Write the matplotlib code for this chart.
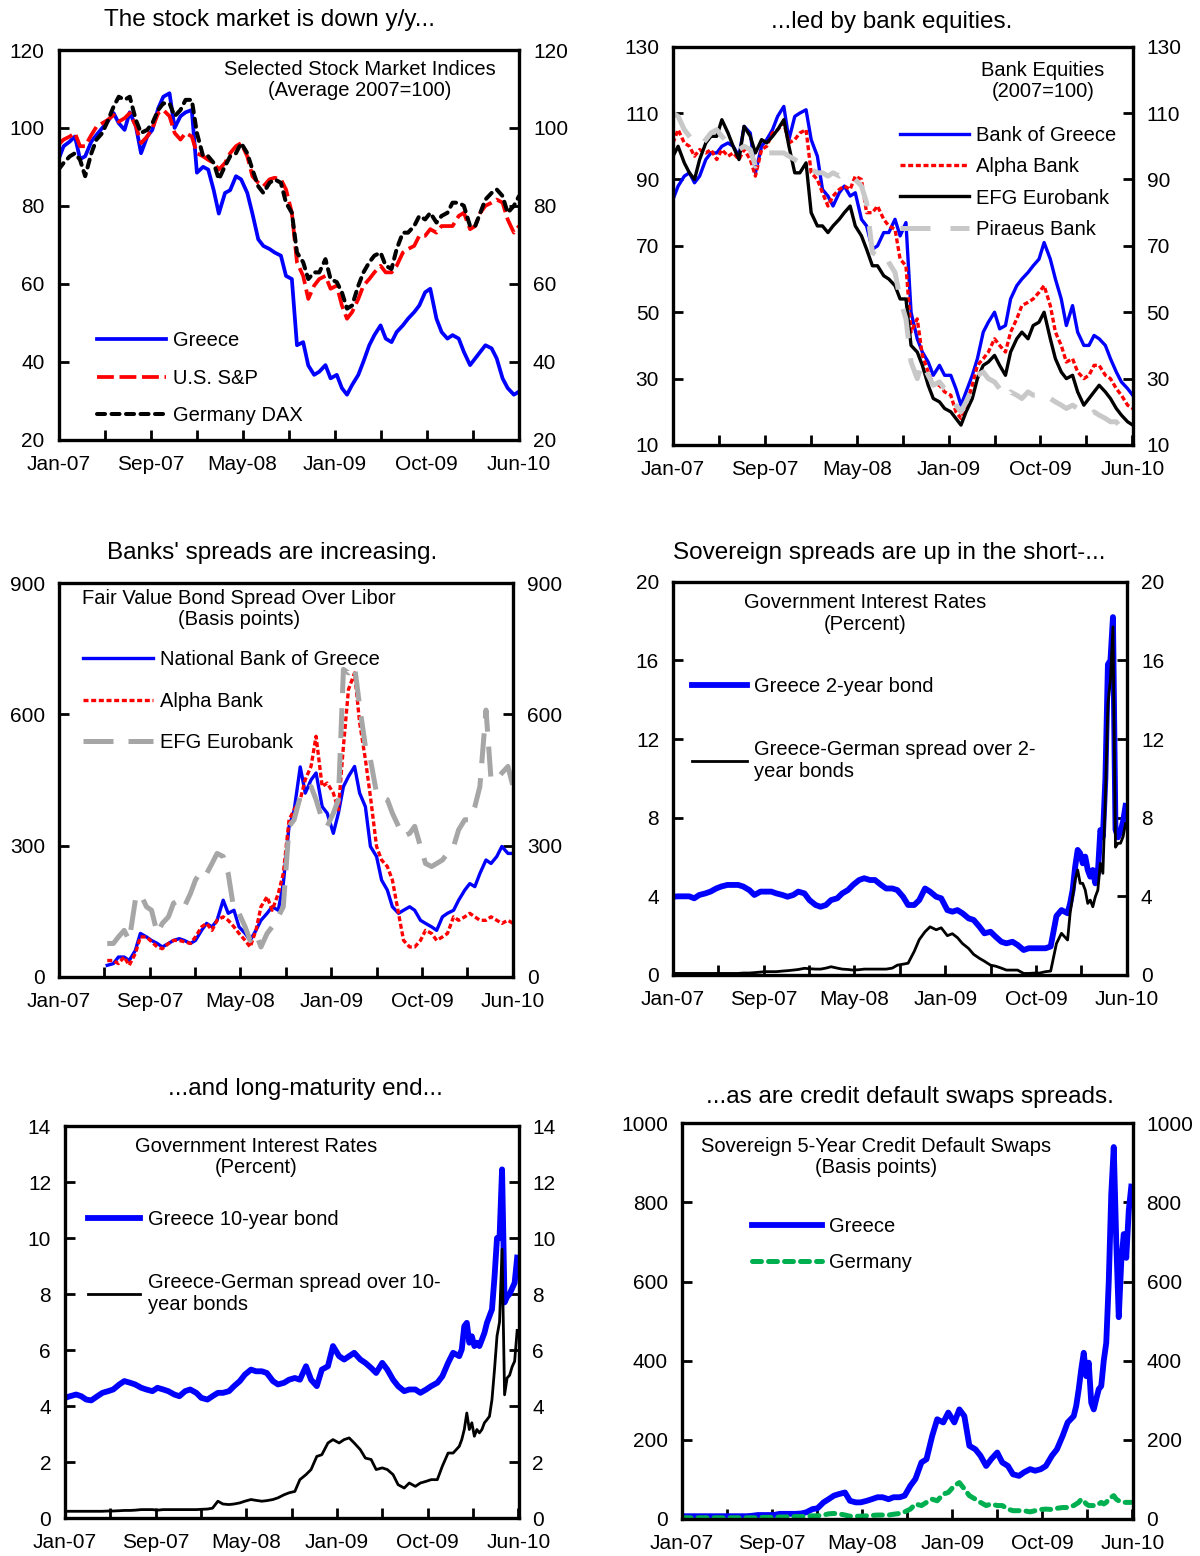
import numpy as np
import pandas as pd
import matplotlib
matplotlib.use("Agg")
import matplotlib.pyplot as plt

plt.rcParams['font.family'] = ['Liberation Sans', 'DejaVu Sans']

# ---------------- observation dates ----------------
START = pd.Timestamp('2007-01-01')
dates_sm = pd.date_range('2007-01-01', periods=84, freq='SMS')          # semi-monthly 2007 - Jun 2010
dates_sm_0709 = pd.date_range('2007-01-01', periods=72, freq='SMS')     # semi-monthly 2007-2009
dates_w10 = pd.date_range('2010-01-01', periods=24, freq='7D')          # weekly 2010
dates_mixed = dates_sm_0709.append(dates_w10)
dates_spread = dates_sm[9:]                                               # from mid-May 2007

xtick_labels = ['Jan-07', '', 'Sep-07', '', 'May-08', '', 'Jan-09', '', 'Oct-09', '', 'Jun-10']

# ---------------- panel 1: stock market indices (avg 2007=100) ----------------
greece_idx = [91.9, 95.3, 96.5, 97.8, 92.0, 92.7, 96.5, 98.2, 100.0, 101.6, 103.8, 101.2, 99.5, 104.0, 100.4, 93.5, 97.8, 99.5, 105.0, 108.0, 108.9, 100.0, 103.0, 104.0,
              104.6, 88.5, 90.0, 89.3, 84.0, 78.0, 83.3, 84.0, 87.6, 86.8, 83.3, 78.0, 71.4, 69.7, 68.9, 68.0, 67.2, 62.0, 61.2, 44.2, 45.0, 39.0, 36.6, 37.4,
              39.1, 35.7, 36.6, 33.2, 31.5, 34.0, 36.6, 40.0, 44.2, 46.8, 49.3, 45.9, 45.0, 47.6, 49.3, 51.0, 52.7, 54.4, 57.8, 58.7, 51.0, 47.6, 45.9, 46.8,
              45.9, 42.5, 39.1, 40.8, 42.5, 44.2, 43.4, 40.8, 35.7, 33.2, 31.5, 32.3]
sp_idx = [95.7, 97.0, 97.8, 98.7, 95.3, 95.3, 98.2, 100.3, 101.2, 102.0, 103.3, 101.6, 102.5, 103.8, 100.4, 96.1, 97.8, 99.9, 103.8, 104.6, 103.0, 98.7, 97.0, 98.7,
          97.8, 93.5, 92.7, 91.8, 91.0, 89.3, 91.0, 93.5, 95.3, 96.1, 92.7, 87.6, 85.9, 85.0, 86.8, 87.2, 86.8, 84.2, 78.2, 65.5, 62.0, 56.1, 59.5, 61.2,
          62.0, 58.7, 59.5, 54.4, 51.0, 52.7, 56.1, 59.5, 61.2, 62.9, 64.6, 62.9, 62.9, 64.6, 68.0, 68.9, 69.7, 72.3, 72.3, 74.0, 73.1, 74.8, 74.8, 74.8,
          77.4, 78.2, 74.0, 74.8, 78.2, 80.0, 80.8, 81.6, 80.8, 76.5, 73.1, 74.8]
dax_idx = [89.3, 91.0, 92.7, 93.5, 91.8, 87.6, 93.5, 97.0, 98.7, 101.6, 105.5, 108.0, 107.2, 108.0, 102.0, 98.7, 99.5, 101.2, 104.6, 106.3, 106.3, 103.0, 104.6, 107.2,
           107.2, 98.7, 92.7, 92.7, 91.0, 86.8, 90.2, 92.7, 93.5, 96.1, 93.5, 89.3, 85.0, 83.3, 85.9, 86.8, 85.9, 80.8, 78.2, 68.0, 65.5, 61.2, 62.9, 62.9,
           66.3, 61.2, 60.4, 57.8, 53.6, 54.4, 59.5, 62.9, 65.5, 67.2, 68.0, 64.6, 63.8, 68.9, 73.1, 73.1, 74.8, 77.4, 76.5, 78.2, 75.7, 77.4, 78.2, 80.8,
           80.8, 80.0, 74.8, 74.8, 78.2, 81.6, 83.3, 84.2, 82.5, 78.2, 80.0, 82.5]

# ---------------- panel 2: bank equities (2007=100) ----------------
bog_eq = [84, 88, 91, 92, 89, 91, 96, 98, 98, 100, 101, 100, 97, 106, 104, 92, 100, 102, 105, 109, 112, 102, 109, 110,
          111, 102, 97, 87, 85, 82, 86, 88, 85, 86, 78, 76, 69, 70, 74, 74, 78, 73, 77, 50, 42, 38, 35, 31,
          34, 31, 31, 27, 22, 26, 31, 36, 44, 47, 50, 45, 46, 54, 58, 60, 62, 64, 66, 71, 66, 60, 54, 46,
          52, 44, 40, 40, 43, 42, 40, 36, 32, 29, 27, 25]
alpha_eq = [101, 105, 101, 100, 97, 99, 98, 99, 96, 99, 97, 98, 96, 99, 96, 91, 99, 100, 104, 105, 107, 101, 102, 104,
            105, 92, 90, 86, 82, 85, 87, 88, 87, 91, 90, 80, 80, 82, 78, 76, 75, 66, 64, 44, 48, 37, 32, 28,
            28, 26, 25, 20, 18, 22, 28, 34, 36, 38, 42, 40, 38, 44, 48, 52, 53, 54, 56, 58, 52, 44, 40, 35,
            36, 32, 30, 31, 34, 34, 31, 30, 27, 25, 22, 21]
efg_eq = [97, 100, 95, 92, 90, 96, 101, 103, 103, 108, 104, 100, 96, 106, 103, 98, 102, 101, 103, 105, 108, 100, 92, 92,
          95, 80, 76, 76, 74, 76, 78, 80, 82, 76, 73, 69, 64, 64, 61, 60, 58, 54, 54, 40, 38, 34, 28, 24,
          23, 21, 20, 18, 16, 20, 24, 30, 34, 35, 37, 34, 31, 38, 42, 44, 42, 46, 47, 50, 42, 36, 32, 30,
          31, 26, 22, 24, 26, 28, 26, 24, 21, 19, 17, 16]
piraeus_eq = [110, 109, 105, 103, 101, 100, 102, 104, 105, 103, 101, 101, 99, 100, 99, 94, 97, 98, 98, 98, 98, 97, 96, 95,
              95, 93, 92, 92, 91, 92, 91, 92, 92, 90, 88, 83, 68, 67, 68, 65, 62, 54, 48, 35, 30, 35, 31, 28,
              29, 27, 26, 22, 20, 23, 27, 31, 32, 30, 29, 27, 24, 26, 25, 24, 26, 25, 25, 26, 24, 23, 22, 21,
              22, 21, 19, 19, 20, 19, 18, 17, 17, 15, 14, 13]

# ---------------- panel 3: fair value bond spread over Libor (bp) ----------------
nbg_spread = [26, 30, 45, 45, 37, 60, 99, 91, 83, 76, 68, 76, 83, 87, 83,
              76, 83, 106, 122, 114, 129, 175, 145, 152, 114, 99, 83, 106, 129, 145, 160, 152, 213, 344, 380, 480, 420, 450, 466,
              389, 374, 328, 374, 435, 458, 481, 420, 389, 298, 275, 221, 198, 160, 145, 152, 160, 152, 129, 122, 114, 106, 137, 145,
              152, 175, 198, 213, 206, 236, 267, 259, 275, 298, 282, 282]
alpha_spread = [37, 37, 30, 45, 26, 53, 91, 91, 80, 68, 64, 76, 83, 83, 80,
                76, 91, 114, 122, 106, 129, 137, 129, 114, 99, 83, 68, 106, 160, 183, 152, 190, 236, 359, 382, 405, 451, 481, 550,
                435, 443, 420, 382, 527, 657, 695, 581, 497, 412, 298, 267, 252, 221, 145, 83, 68, 68, 83, 106, 99, 83, 91, 99,
                137, 129, 137, 145, 137, 129, 129, 137, 129, 122, 129, 122]
efg_spread = [76, 76, 91, 106, 83, 175, 190, 160, 152, 99, 122, 137, 168, 175, 160,
              190, 221, 244, 236, 259, 282, 275, 236, 152, 145, 114, 83, 99, 68, 99, 114, 137, 160, 344, 359, 412, 420, 435, 405,
              359, 344, 374, 405, 703, 695, 711, 619, 527, 497, 420, 412, 405, 374, 344, 321, 328, 344, 298, 259, 252, 259, 267, 282,
              298, 336, 359, 359, 389, 435, 610, 451, 451, 466, 481, 435]

# ---------------- panel 4: 2-year rates (percent) ----------------
gr_2y = [3.98, 4.0, 4.0, 4.0, 3.9, 4.07, 4.15, 4.24, 4.4, 4.5, 4.58, 4.58, 4.58, 4.5, 4.32, 4.07, 4.24, 4.24, 4.24, 4.15, 4.07, 3.98, 4.07, 4.24,
         4.15, 3.81, 3.56, 3.47, 3.56, 3.81, 3.9, 4.15, 4.32, 4.58, 4.83, 4.92, 4.83, 4.83, 4.58, 4.4, 4.4, 4.32, 3.98, 3.56, 3.56, 3.81, 4.4, 4.24,
         3.98, 3.9, 3.3, 3.22, 3.3, 3.14, 2.88, 2.8, 2.46, 2.12, 2.2, 1.95, 1.69, 1.61, 1.69, 1.53, 1.27, 1.36, 1.36, 1.36, 1.36, 1.45, 3.0, 3.3,
         3.14, 3.64, 4.32, 5.5, 6.36, 6.19, 5.68, 6.02, 5.34, 5.0, 5.34, 4.66, 5.17, 7.37, 7.03, 10.0, 15.8, 16.0, 18.2, 7.4, 7.0, 7.3, 7.8, 8.6]
gr_de_2y = [0.08, 0.08, 0.08, 0.08, 0.08, 0.08, 0.08, 0.08, 0.08, 0.08, 0.08, 0.08, 0.08, 0.10, 0.10, 0.12, 0.15, 0.17, 0.17, 0.17, 0.20, 0.22, 0.25, 0.28,
            0.34, 0.32, 0.30, 0.30, 0.35, 0.42, 0.35, 0.30, 0.28, 0.25, 0.27, 0.30, 0.30, 0.30, 0.30, 0.30, 0.35, 0.50, 0.55, 0.60, 1.20, 1.80, 2.20, 2.45,
            2.30, 2.40, 2.00, 2.10, 1.90, 1.60, 1.35, 1.05, 0.85, 0.70, 0.50, 0.45, 0.35, 0.25, 0.25, 0.25, 0.08, 0.08, 0.10, 0.10, 0.17, 0.20, 1.60, 2.12,
            1.78, 3.14, 3.98, 4.83, 5.34, 4.66, 4.66, 4.32, 3.64, 3.81, 3.47, 3.98, 4.32, 5.68, 5.17, 9.07, 13.8, 15.0, 17.7, 6.5, 6.7, 6.7, 7.03, 7.7]

# ---------------- panel 5: 10-year rates (percent) ----------------
gr_10y = [4.29, 4.35, 4.41, 4.35, 4.23, 4.2, 4.35, 4.47, 4.53, 4.59, 4.77, 4.89, 4.83, 4.77, 4.65, 4.59, 4.53, 4.65, 4.59, 4.53, 4.41, 4.35, 4.53, 4.59,
          4.47, 4.29, 4.23, 4.35, 4.47, 4.47, 4.53, 4.71, 4.89, 5.12, 5.3, 5.24, 5.24, 5.18, 4.89, 4.77, 4.83, 4.94, 5.0, 4.94, 5.42, 4.94, 4.71, 5.3,
          5.42, 6.14, 5.78, 5.66, 5.78, 5.9, 5.66, 5.54, 5.36, 5.18, 5.54, 5.3, 4.94, 4.71, 4.53, 4.59, 4.59, 4.47, 4.59, 4.71, 4.83, 5.06, 5.54, 5.9,
          5.78, 6.02, 6.85, 6.97, 6.26, 6.49, 6.14, 6.26, 6.14, 6.37, 6.61, 6.97, 7.21, 7.45, 8.6, 10.0, 10.0, 12.45, 7.7, 7.9, 8.0, 8.2, 8.4, 9.3]
gr_de_10y = [0.24, 0.24, 0.24, 0.24, 0.24, 0.24, 0.24, 0.24, 0.25, 0.25, 0.26, 0.27, 0.27, 0.28, 0.30, 0.30, 0.30, 0.28, 0.30, 0.30, 0.30, 0.30, 0.30, 0.30,
             0.30, 0.31, 0.32, 0.35, 0.60, 0.50, 0.48, 0.50, 0.54, 0.60, 0.66, 0.63, 0.60, 0.62, 0.66, 0.72, 0.83, 0.90, 0.95, 1.37, 1.55, 1.73, 2.20, 2.26,
             2.68, 2.80, 2.68, 2.80, 2.86, 2.68, 2.44, 2.14, 2.09, 1.73, 1.79, 1.73, 1.55, 1.19, 1.07, 1.25, 1.13, 1.25, 1.31, 1.37, 1.37, 1.85, 2.32, 2.32,
             2.56, 2.80, 3.16, 3.75, 3.16, 3.40, 2.92, 3.16, 3.04, 3.16, 3.40, 3.51, 3.63, 4.23, 5.30, 6.50, 7.00, 9.60, 4.40, 5.00, 5.10, 5.40, 5.60, 6.70]

# ---------------- panel 6: 5-year CDS (bp) ----------------
cds_greece = [7, 7, 7, 7, 7, 7, 7, 7, 7, 7, 7, 7, 7, 8, 10, 10, 10, 10, 13, 13, 13, 13, 14, 17,
              25, 27, 42, 50, 59, 63, 67, 46, 42, 42, 46, 50, 55, 55, 50, 55, 55, 59, 84, 101, 143, 151, 210, 252,
              244, 269, 244, 277, 260, 185, 176, 160, 134, 151, 168, 143, 134, 113, 109, 118, 126, 122, 126, 134, 160, 176, 210, 244,
              260, 286, 328, 378, 420, 361, 395, 294, 277, 303, 328, 336, 400, 445, 600, 820, 940, 700, 510, 650, 720, 660, 780, 840]
cds_germany = [3, 3, 3, 3, 3, 3, 3, 3, 3, 3, 3, 3, 3, 3, 3, 4, 4, 4, 5, 5, 6, 6, 6, 7,
               8, 8, 10, 13, 14, 13, 10, 7, 7, 7, 8, 9, 10, 10, 10, 12, 14, 18, 25, 38, 34, 42, 50, 46,
               63, 67, 84, 92, 76, 59, 50, 42, 34, 38, 34, 34, 25, 21, 21, 21, 18, 21, 24, 25, 24, 27, 29, 29,
               34, 38, 42, 50, 46, 38, 34, 34, 34, 38, 38, 42, 38, 42, 50, 55, 59, 50, 46, 44, 42, 42, 42, 42]


def days(d):
    return np.asarray((d - START).days, dtype=float)


W, H = 1200, 1556
fig = plt.figure(figsize=(W / 100, H / 100), dpi=100)


def make_axes(x0, x1, ytop, ybot):
    return fig.add_axes([x0 / W, 1 - ybot / H, (x1 - x0) / W, (ybot - ytop) / H])


TICK_FS = 15
ANN_FS = 14.5
TITLE_FS = 17.5


def style(ax, ylim, yticks):
    ax.set_xlim(0, 1261)
    ax.set_ylim(*ylim)
    ax.set_yticks(yticks)
    ax.set_yticklabels([str(t) for t in yticks])
    ax.set_xticks(np.arange(0, 1261, 126))
    ax.set_xticklabels(xtick_labels)
    ax.tick_params(axis='y', direction='in', left=True, right=True, labelleft=True,
                   labelright=True, length=7, width=2, pad=10, labelsize=TICK_FS)
    ax.tick_params(axis='x', direction='in', bottom=True, top=False, length=7,
                   width=2, pad=11, labelsize=TICK_FS)
    for s in ax.spines.values():
        s.set_linewidth(2.4)


def title(xc, yc, txt):
    fig.text(xc / W, 1 - yc / H, txt, ha='center', va='center', fontsize=TITLE_FS)


def legend(ax, fx, fy, hl, ls, **kw):
    ax.legend(loc='upper left', bbox_to_anchor=(fx, fy), frameon=False, borderpad=0,
              borderaxespad=0, handlelength=hl, handletextpad=0.35, labelspacing=ls,
              fontsize=ANN_FS, **kw)


BLUE, RED, BLACK = '#0000FF', '#FF0000', '#000000'

# ---------- Panel 1 ----------
ax1 = make_axes(58.5, 519, 50, 439.5)
x = days(dates_sm)
ax1.plot(x, greece_idx, color=BLUE, lw=2.7, label='Greece')
ax1.plot(x, sp_idx, color=RED, lw=2.7, linestyle=(0, (4.5, 1.5)), label='U.S. S&P')
ax1.plot(x, dax_idx, color=BLACK, lw=2.9, linestyle=(0, (2.0, 1.6)), dash_capstyle='round',
         label='Germany DAX')
style(ax1, (20, 120), [20, 40, 60, 80, 100, 120])
ax1.text(0.655, 0.975, 'Selected Stock Market Indices\n(Average 2007=100)', transform=ax1.transAxes,
         ha='center', va='top', fontsize=ANN_FS, linespacing=1.15)
legend(ax1, 0.084, 0.278, 3.4, 0.92)
title(269, 20, 'The stock market is down y/y...')

# ---------- Panel 2 ----------
ax2 = make_axes(673, 1132.7, 46.7, 445)
ax2.plot(x, bog_eq, color=BLUE, lw=2.4, label='Bank of Greece')
ax2.plot(x, alpha_eq, color=RED, lw=2.4, linestyle=(0, (1.5, 0.8)), label='Alpha Bank')
ax2.plot(x, efg_eq, color=BLACK, lw=2.4, label='EFG Eurobank')
ax2.plot(x, piraeus_eq, color='#C8C8C8', lw=3.6, linestyle=(0, (6, 4)), label='Piraeus Bank')
style(ax2, (10, 130), [10, 30, 50, 70, 90, 110, 130])
ax2.text(0.805, 0.965, 'Bank Equities\n(2007=100)', transform=ax2.transAxes,
         ha='center', va='top', fontsize=ANN_FS, linespacing=1.15)
legend(ax2, 0.494, 0.800, 3.4, 0.60)
title(892, 22, '...led by bank equities.')

# ---------- Panel 3 ----------
ax3 = make_axes(59, 513, 583.3, 976.7)
xs = days(dates_spread)
ax3.plot(xs, nbg_spread, color=BLUE, lw=2.4, label='National Bank of Greece')
ax3.plot(xs, alpha_spread, color=RED, lw=2.4, linestyle=(0, (1.5, 0.8)), label='Alpha Bank')
ax3.plot(xs, efg_spread, color='#A6A6A6', lw=3.6, linestyle=(0, (6, 3)), label='EFG Eurobank')
style(ax3, (0, 900), [0, 300, 600, 900])
ax3.text(0.396, 0.985, 'Fair Value Bond Spread Over Libor\n(Basis points)', transform=ax3.transAxes,
         ha='center', va='top', fontsize=ANN_FS, linespacing=1.15)
legend(ax3, 0.053, 0.830, 3.45, 1.12)
title(272, 553, "Banks' spreads are increasing.")

# ---------- Panel 4 ----------
ax4 = make_axes(673, 1127, 581.7, 975)
xm = days(dates_mixed)
ax4.plot(xm, gr_2y, color=BLUE, lw=4.2, label='Greece 2-year bond')
ax4.plot(xm, gr_de_2y, color=BLACK, lw=2.0, label='Greece-German spread over 2-\nyear bonds')
style(ax4, (0, 20), [0, 4, 8, 12, 16, 20])
ax4.text(0.423, 0.970, 'Government Interest Rates\n(Percent)', transform=ax4.transAxes,
         ha='center', va='top', fontsize=ANN_FS, linespacing=1.15)
legend(ax4, 0.042, 0.758, 2.75, 2.2)
title(889, 553, 'Sovereign spreads are up in the short-...')

# ---------- Panel 5 ----------
ax5 = make_axes(65, 518.6, 1126, 1518)
ax5.plot(xm, gr_10y, color=BLUE, lw=4.2, label='Greece 10-year bond')
ax5.plot(xm, gr_de_10y, color=BLACK, lw=2.0, label='Greece-German spread over 10-\nyear bonds')
style(ax5, (0, 14), [0, 2, 4, 6, 8, 10, 12, 14])
ax5.text(0.421, 0.973, 'Government Interest Rates\n(Percent)', transform=ax5.transAxes,
         ha='center', va='top', fontsize=ANN_FS, linespacing=1.15)
legend(ax5, 0.051, 0.786, 2.6, 2.2)
title(305, 1089, '...and long-maturity end...')

# ---------- Panel 6 ----------
ax6 = make_axes(682, 1132.7, 1123.3, 1519)
ax6.plot(xm, cds_greece, color=BLUE, lw=4.2, label='Greece')
ax6.plot(xm, cds_germany, color='#00B050', lw=3.6, linestyle=(0, (1.8, 1.4)), dash_capstyle='round',
         label='Germany')
style(ax6, (0, 1000), [0, 200, 400, 600, 800, 1000])
ax6.text(0.430, 0.965, 'Sovereign 5-Year Credit Default Swaps\n(Basis points)', transform=ax6.transAxes,
         ha='center', va='top', fontsize=ANN_FS, linespacing=1.15)
legend(ax6, 0.155, 0.762, 3.5, 0.80)
title(910, 1097, '...as are credit default swaps spreads.')

fig.savefig('out.png', dpi=100)
